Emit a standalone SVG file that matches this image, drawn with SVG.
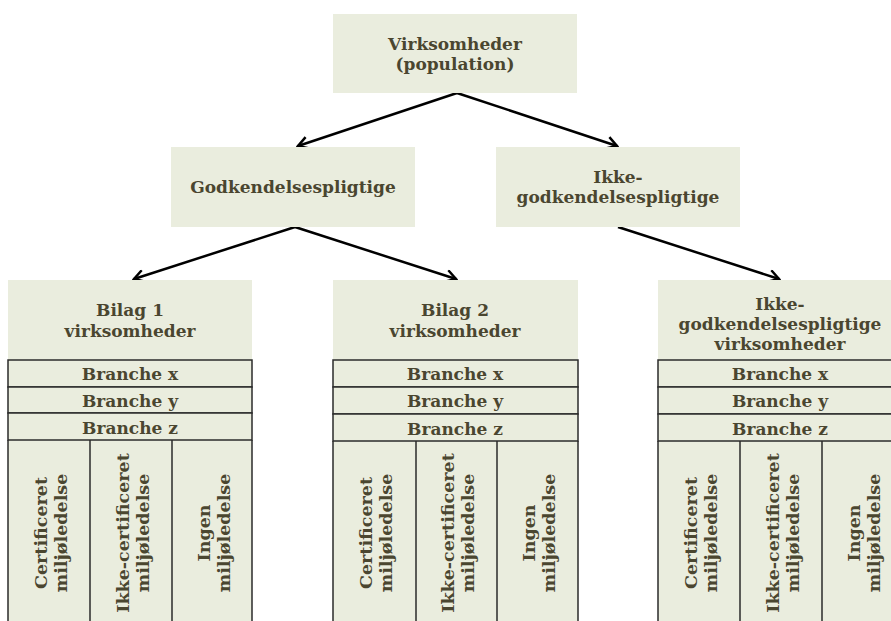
<svg xmlns="http://www.w3.org/2000/svg" width="891" height="621" viewBox="0 0 891 621">
<defs>
<style>
.box{fill:#eaedde;stroke:none}
.cell{fill:#eaedde;stroke:#2b2b2b;stroke-width:1.5}
.t{font-family:"DejaVu Serif","Liberation Serif",serif;font-weight:bold;font-size:17px;fill:#4a4630;text-anchor:middle}
.v{font-size:17.5px}
.arr{fill:none;stroke:#000;stroke-width:2.5;marker-end:url(#ah)}
</style>
<marker id="ah" viewBox="0 0 14 14" refX="12" refY="7" markerWidth="14" markerHeight="14" markerUnits="userSpaceOnUse" orient="auto">
<path d="M2,1 L12,7 L2,13" fill="none" stroke="#000" stroke-width="2.5"/>
</marker>
</defs>
<rect width="891" height="621" fill="#fff"/>

<g id="connectors">
<line class="arr" x1="457" y1="93" x2="298" y2="146"/>
<line class="arr" x1="457" y1="93" x2="617" y2="146"/>
<line class="arr" x1="295" y1="227" x2="134" y2="279"/>
<line class="arr" x1="295" y1="227" x2="456" y2="279"/>
<line class="arr" x1="618" y1="227" x2="779" y2="279"/>
</g>

<g id="n-virksomheder">
<rect class="box" x="333" y="14" width="244" height="79"/>
<text class="t" x="455" y="50">Virksomheder</text>
<text class="t" x="455" y="70">(population)</text>
</g>

<g id="n-godk">
<rect class="box" x="171" y="147" width="244" height="80"/>
<text class="t" x="293" y="193">Godkendelsespligtige</text>
</g>

<g id="n-ikke-godk">
<rect class="box" x="496" y="147" width="244" height="80"/>
<text class="t" x="618" y="183">Ikke-</text>
<text class="t" x="618" y="203">godkendelsespligtige</text>
</g>

<g id="n-bilag1">
<rect class="box" x="8" y="280" width="244" height="341"/>
<text class="t" x="130" y="316">Bilag 1</text>
<text class="t" x="130" y="337">virksomheder</text>
<rect class="cell" x="8" y="360" width="244" height="27"/>
<rect class="cell" x="8" y="387" width="244" height="26"/>
<rect class="cell" x="8" y="413" width="244" height="27"/>
<path class="cell" d="M8,440 V625 M90,440 V625 M172,440 V625 M252,440 V625"/>
<text class="t" x="130" y="380">Branche x</text>
<text class="t" x="130" y="407">Branche y</text>
<text class="t" x="130" y="434">Branche z</text>
<text class="t v" transform="translate(49,533) rotate(-90)"><tspan x="0" y="-2">Certificeret</tspan><tspan x="0" y="18">miljøledelse</tspan></text>
<text class="t v" transform="translate(131,533) rotate(-90)"><tspan x="0" y="-2">Ikke-certificeret</tspan><tspan x="0" y="18">miljøledelse</tspan></text>
<text class="t v" transform="translate(212,533) rotate(-90)"><tspan x="0" y="-2">Ingen</tspan><tspan x="0" y="18">miljøledelse</tspan></text>
</g>

<g id="n-bilag2">
<rect class="box" x="333" y="280" width="245" height="341"/>
<text class="t" x="455" y="316">Bilag 2</text>
<text class="t" x="455" y="337">virksomheder</text>
<rect class="cell" x="333" y="360" width="245" height="27"/>
<rect class="cell" x="333" y="387" width="245" height="27"/>
<rect class="cell" x="333" y="414" width="245" height="27"/>
<path class="cell" d="M333,441 V625 M416,441 V625 M497,441 V625 M578,441 V625"/>
<text class="t" x="455" y="380">Branche x</text>
<text class="t" x="455" y="407">Branche y</text>
<text class="t" x="455" y="435">Branche z</text>
<text class="t v" transform="translate(374,533) rotate(-90)"><tspan x="0" y="-2">Certificeret</tspan><tspan x="0" y="18">miljøledelse</tspan></text>
<text class="t v" transform="translate(456,533) rotate(-90)"><tspan x="0" y="-2">Ikke-certificeret</tspan><tspan x="0" y="18">miljøledelse</tspan></text>
<text class="t v" transform="translate(537,533) rotate(-90)"><tspan x="0" y="-2">Ingen</tspan><tspan x="0" y="18">miljøledelse</tspan></text>
</g>

<g id="n-ikke-virks">
<rect class="box" x="658" y="280" width="246" height="341"/>
<text class="t" x="780" y="310">Ikke-</text>
<text class="t" x="780" y="330">godkendelsespligtige</text>
<text class="t" x="780" y="350">virksomheder</text>
<rect class="cell" x="658" y="360" width="246" height="27"/>
<rect class="cell" x="658" y="387" width="246" height="27"/>
<rect class="cell" x="658" y="414" width="246" height="27"/>
<path class="cell" d="M658,441 V625 M740,441 V625 M822,441 V625"/>
<text class="t" x="780" y="380">Branche x</text>
<text class="t" x="780" y="407">Branche y</text>
<text class="t" x="780" y="435">Branche z</text>
<text class="t v" transform="translate(699,533) rotate(-90)"><tspan x="0" y="-2">Certificeret</tspan><tspan x="0" y="18">miljøledelse</tspan></text>
<text class="t v" transform="translate(781,533) rotate(-90)"><tspan x="0" y="-2">Ikke-certificeret</tspan><tspan x="0" y="18">miljøledelse</tspan></text>
<text class="t v" transform="translate(862,533) rotate(-90)"><tspan x="0" y="-2">Ingen</tspan><tspan x="0" y="18">miljøledelse</tspan></text>
</g>
</svg>
